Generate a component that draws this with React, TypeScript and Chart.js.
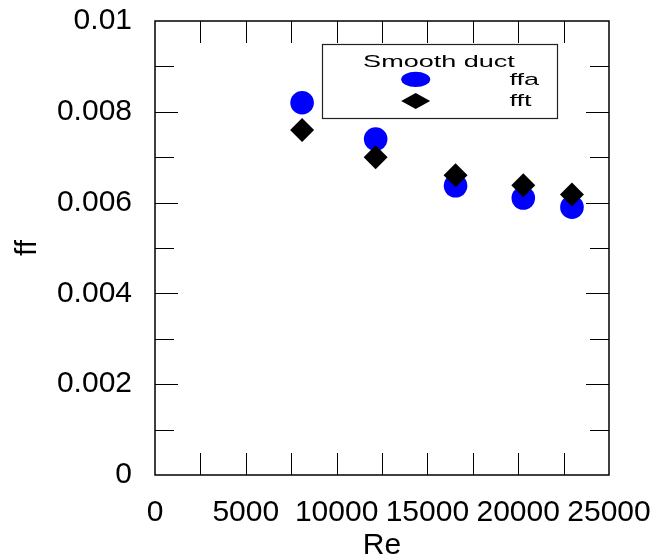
import React, { useEffect, useRef } from "react";
import { Chart, registerables } from "chart.js";

Chart.register(...registerables);

// ---- data ----
const reValues = [8100, 12150, 16550, 20280, 22960];
const ffaValues = [0.0082, 0.0074, 0.00637, 0.0061, 0.0059];
const fftValues = [0.0076, 0.007, 0.0066, 0.00638, 0.00618];
const xTickValues = [0, 5000, 10000, 15000, 20000, 25000];
const yTickValues = [0, 0.002, 0.004, 0.006, 0.008, 0.01];
const legendTitle = "Smooth duct";
const seriesNames = ["ffa", "fft"];

const FONT = "'Liberation Sans', Arial, sans-serif";

const framePlugin = {
  id: "frame",
  afterDraw(chart: any) {
    const { ctx, chartArea } = chart;
    const xs = chart.scales.x;
    const ys = chart.scales.y;
    const { left, right, top, bottom } = chartArea;
    ctx.save();
    ctx.strokeStyle = "#000";
    ctx.lineWidth = 1;
    for (let v = 2500; v < 25000; v += 2500) {
      const px = Math.round(xs.getPixelForValue(v)) + 0.5;
      const len = 22;
      ctx.beginPath();
      ctx.moveTo(px, bottom);
      ctx.lineTo(px, bottom - len);
      ctx.moveTo(px, top);
      ctx.lineTo(px, top + len);
      ctx.stroke();
    }
    for (let i = 1; i < 10; i++) {
      const v = i * 0.001;
      const py = Math.round(ys.getPixelForValue(v)) + 0.5;
      const len = i % 2 === 0 ? 23 : 19;
      ctx.beginPath();
      ctx.moveTo(left, py);
      ctx.lineTo(left + len, py);
      ctx.moveTo(right, py);
      ctx.lineTo(right - len, py);
      ctx.stroke();
    }
    ctx.lineWidth = 1.5;
    ctx.strokeRect(left, top, right - left, bottom - top);

    // legend box
    const lx = 322, ly = 44, lw = 235, lh = 74;
    ctx.fillStyle = "#fff";
    ctx.fillRect(lx, ly, lw, lh);
    ctx.strokeStyle = "#222";
    ctx.lineWidth = 1.2;
    ctx.strokeRect(lx + 0.5, ly + 0.5, lw, lh);

    const stretch = 1.59;
    ctx.fillStyle = "#000";
    ctx.font = `17px ${FONT}`;
    ctx.textBaseline = "alphabetic";
    ctx.save();
    ctx.translate(439, 67.3);
    ctx.scale(stretch, 1);
    ctx.textAlign = "center";
    ctx.fillText(legendTitle, 0, 0);
    ctx.restore();
    const entryY = [79.3, 101];
    const textY = [85, 106];
    seriesNames.forEach((name, i) => {
      ctx.save();
      ctx.translate(509.5, textY[i]);
      ctx.scale(stretch, 1);
      ctx.textAlign = "left";
      ctx.fillText(name, 0, 0);
      ctx.restore();
    });
    ctx.fillStyle = "#0000ff";
    ctx.beginPath();
    ctx.ellipse(415.7, entryY[0], 14.5, 7.6, 0, 0, Math.PI * 2);
    ctx.fill();
    ctx.fillStyle = "#000";
    ctx.beginPath();
    ctx.moveTo(415.7 - 14.5, entryY[1]);
    ctx.lineTo(415.7, entryY[1] - 8);
    ctx.lineTo(415.7 + 14.5, entryY[1]);
    ctx.lineTo(415.7, entryY[1] + 8);
    ctx.closePath();
    ctx.fill();
    ctx.restore();
  },
};

export default function App() {
  const ref = useRef<HTMLCanvasElement | null>(null);
  useEffect(() => {
    if (!ref.current) return;
    const chart = new Chart(ref.current, {
      type: "scatter",
      data: {
        datasets: [
          {
            label: seriesNames[0],
            data: reValues.map((x, i) => ({ x, y: ffaValues[i] })),
            pointStyle: "circle",
            pointRadius: 11.8,
            pointBackgroundColor: "#0000ff",
            pointBorderWidth: 0,
            order: 1,
          },
          {
            label: seriesNames[1],
            data: reValues.map((x, i) => ({ x, y: fftValues[i] })),
            pointStyle: "rectRot",
            pointRadius: 12,
            pointBackgroundColor: "#000",
            pointBorderWidth: 0,
            order: 0,
          },
        ],
      },
      options: {
        responsive: false,
        devicePixelRatio: 1,
        animation: false,
        layout: { padding: { top: 21, right: 57, left: 0, bottom: 0 } },
        plugins: { legend: { display: false }, tooltip: { enabled: false } },
        scales: {
          x: {
            type: "linear",
            min: 0,
            max: 25000,
            afterBuildTicks: (s: any) => {
              s.ticks = xTickValues.map((value) => ({ value }));
            },
            afterFit: (s: any) => {
              s.height = 85;
              s.paddingLeft = 0;
              s.paddingRight = 0;
            },
            ticks: {
              autoSkip: false,
              maxRotation: 0,
              minRotation: 0,
              padding: 12,
              color: "#000",
              font: { family: FONT, size: 30 },
              callback: (v: any) => String(v),
            },
            grid: { display: false },
            border: { display: false },
            title: {
              display: true,
              text: "Re",
              color: "#000",
              font: { family: FONT, size: 30, lineHeight: 0.67 },
            },
          },
          y: {
            type: "linear",
            min: 0,
            max: 0.01,
            afterBuildTicks: (s: any) => {
              s.ticks = yTickValues.map((value) => ({ value }));
            },
            afterFit: (s: any) => {
              s.width = 155;
              s.paddingTop = 0;
              s.paddingBottom = 0;
            },
            ticks: {
              padding: 15,
              color: "#000",
              font: { family: FONT, size: 30 },
              callback: (v: any) => String(Number(Number(v).toFixed(3))),
            },
            grid: { display: false },
            border: { display: false },
            title: {
              display: true,
              text: "ff",
              color: "#000",
              font: { family: FONT, size: 30, lineHeight: 1.6 },
            },
          },
        },
      },
      plugins: [framePlugin],
    } as any);
    return () => chart.destroy();
  }, []);
  return (
    <div style={{ position: "absolute", left: 0, top: 0, width: 666, height: 560, background: "#fff" }}>
      <canvas ref={ref} width={666} height={560} style={{ display: "block" }} />
    </div>
  );
}
